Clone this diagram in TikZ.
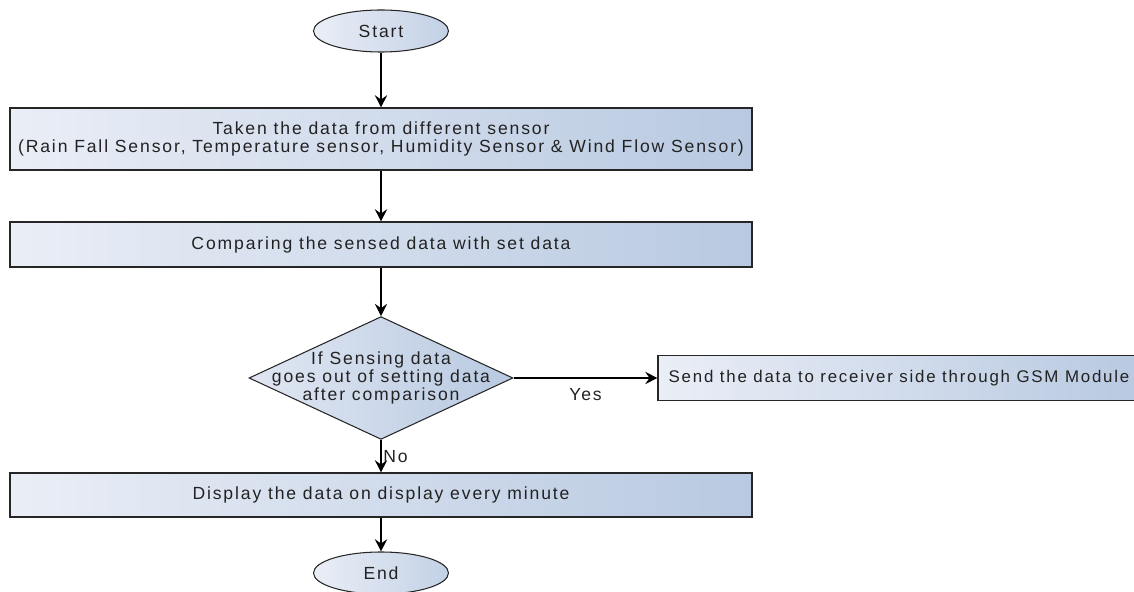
\documentclass[tikz,border=0pt]{standalone}
\usepackage{fontspec}
\newfontfamily\chartfont[LetterSpace=10.6]{Liberation Sans}
\usepackage{tikz}
\usetikzlibrary{shapes.geometric,arrows.meta,positioning}
\definecolor{boxleft}{HTML}{EAEEF6}
\definecolor{boxright}{HTML}{B8C9E1}
\definecolor{inktext}{HTML}{222222}

\begin{document}
\begin{tikzpicture}[
  every node/.style={font=\chartfont\fontsize{10}{10.2}\selectfont, text=inktext},
  terminal/.style={ellipse, draw=black!85, line width=0.6pt, left color=boxleft, right color=boxright!85, minimum width=2.7cm, minimum height=0.84cm, inner sep=0pt},
  process/.style={rectangle, draw=black!85, line width=0.6pt, left color=boxleft, right color=boxright, minimum width=14.84cm, align=center, inner sep=0pt},
  decision/.style={diamond, draw=black!85, line width=0.6pt, left color=boxleft!80!boxright, right color=boxright, aspect=2.15, minimum width=5.16cm, minimum height=2.4cm, inner sep=-6pt, align=center},
  flow/.style={line width=0.7pt, -{Stealth[length=7pt,width=7pt,inset=2.5pt]}}
]
  \useasboundingbox (0,0) rectangle (22.68,-11.84);
  % Steps
  \node[terminal] (start) at (7.62,-0.62) {Start};
  \node[process, minimum height=1.24cm] (read) at (7.62,-2.78) {Taken the data from different sensor\\ (Rain Fall Sensor, Temperature sensor, Humidity Sensor \& Wind Flow Sensor)};
  \node[process, minimum height=0.9cm] (compare) at (7.62,-4.89) {Comparing the sensed data with set data};
  \node[decision] (check) at (7.62,-7.56) {If Sensing data\\ goes out of setting data\\ after comparison};
  \node[process, minimum width=9.64cm, minimum height=0.9cm, font=\chartfont\fontsize{9.6}{10}\selectfont] (send) at (17.98,-7.56) {Send the data to receiver side through GSM Module};
  \node[process, minimum height=0.88cm] (show) at (7.62,-9.90) {Display the data on display every minute};
  \node[terminal] (stop) at (7.62,-11.46) {End};
  %
  % Flow edges:
  \draw[flow] (start) -- (read);
  \draw[flow] (read) -- (compare);
  \draw[flow] (compare) -- (check);
  \draw[flow] (check) -- node[below=2pt] {Yes} (send);
  \draw[flow] (check) -- node[right, inner sep=1pt] {No} (show);
  \draw[flow] (show) -- (stop);
\end{tikzpicture}
\end{document}
